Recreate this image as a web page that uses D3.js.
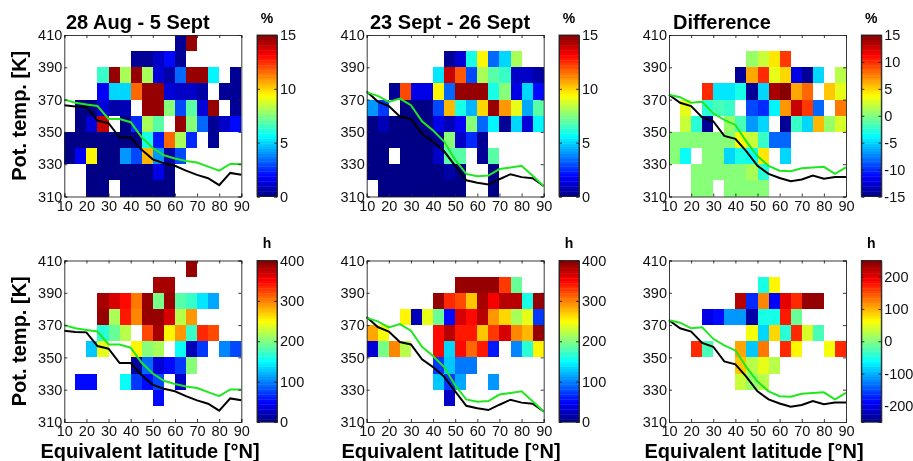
<!DOCTYPE html>
<html>
<head>
<meta charset="utf-8">
<script src="https://cdn.jsdelivr.net/npm/d3@7"></script>
<style>
body { margin: 0; background: #fff; }
svg { display: block; font-family: "Liberation Sans", Arial, sans-serif; filter: blur(0.4px); }
.tick text { font-size: 14.5px; fill: #111; }
.axis path, .axis line { stroke: #222; stroke-width: 0.9; }
</style>
</head>
<body>
<svg id="chart" width="913" height="461"></svg>
<script>
var _ = null;

// latitude bin edges (5 deg) and theta bins (10 K), rows listed top down from 400-410 K
var latBins = [10, 15, 20, 25, 30, 35, 40, 45, 50, 55, 60, 65, 70, 75, 80, 85];
var thetaBins = [400, 390, 380, 370, 360, 350, 340, 330, 320, 310];
var lineLats = [10, 15, 20, 25, 30, 35, 40, 45, 50, 55, 60, 65, 70, 75, 80, 85, 90];
var xTicks = [10, 20, 30, 40, 50, 60, 70, 80, 90];
var yTicks = [310, 330, 350, 370, 390, 410];

var pctAug = [
  [_,_,_,_,_,_,_,_,_,_,.3,14.6,_,_,_,_],
  [_,_,_,_,_,_,.3,.3,1,2,.3,_,_,_,_,_],
  [_,_,_,6.5,14.6,8,14.6,8,1.2,.6,3.5,14.6,14.6,5.5,_,.4],
  [_,_,_,1.8,5,5,11.5,14.6,14.6,1.3,1,1,.5,_,.3,.3],
  [_,.2,.2,1.2,.5,.8,_,14.6,14.6,7.5,3,7,1.2,14.6,_,.3],
  [_,.2,1.2,14,_,.2,2.5,8,7,_,14.6,7.5,3.5,.3,1,2],
  [.1,.1,.1,.1,.1,.1,.2,6,2.2,11.5,8,2.5,_,.3,_,_],
  [.2,1.8,9.5,.1,.1,4,3,10.5,4,.5,3,_,_,_,_,_],
  [_,_,.1,.1,.1,.1,.1,.1,1.5,.1,_,_,_,_,_,_],
  [_,_,.1,.1,_,.1,.1,.1,.1,.1,_,_,_,_,_,_]
];
var pctSept = [
  [_,_,_,_,_,_,_,_,_,_,_,_,_,_,_,_],
  [_,_,_,_,_,_,_,.3,1.2,6,9.5,3.5,5,8,_,_],
  [_,_,_,_,_,_,5.2,14,11.8,3,8,7,6.5,1,1,.6],
  [_,_,.3,12,1.5,1.5,9.5,3.5,14.6,14.6,14.6,6,7.5,1.5,5,2],
  [4,2.8,_,.1,.1,.1,3,10.5,6,4.5,10,14.6,11,9,4.3,6.8],
  [.2,.8,.1,.1,.1,.1,1.5,.8,1.8,7.5,3.5,5.5,.3,5,1.2,5.5],
  [.1,.1,.1,.1,.1,.1,.3,7.5,1,2.5,.3,_,_,_,_,_],
  [.1,.1,_,.1,.1,.1,1,7,7,_,.3,7,_,_,_,_],
  [.1,.1,.1,.1,.1,.1,.1,.5,.2,_,_,.2,_,_,_,_],
  [_,.1,.1,.1,.1,.1,.1,.1,.1,_,_,.2,_,_,_,_]
];
var pctDiff = [
  [_,_,_,_,_,_,_,_,_,_,_,_,_,_,_,_],
  [_,_,_,_,_,_,_,.5,2,4.5,9.5,_,_,_,_,_],
  [_,_,_,_,_,_,-14.5,6.5,10,3,5,-12,-14.5,-5,_,1.5],
  [_,_,_,10,-4.5,-4.5,-3,-14.5,-5,14,14.6,6.5,8,_,5.5,3],
  [_,3,_,-2.5,-1.5,-2,_,-9,-10,-4,7,13,9.5,-8,_,7.5],
  [_,2,-2.5,-14.5,_,.5,-1.5,-7,-5,_,-14.5,-2,-5,6,.5,2.5],
  [0,0,0,0,0,0,3.5,2,-2,-8,-8,_,_,_,_,_],
  [0,-3.5,_,0,0,-5,-3,-3.5,4.5,_,-5,_,_,_,_,_],
  [_,_,0,0,0,0,0,1,-2.5,_,_,_,_,_,_,_],
  [_,_,0,0,_,0,0,0,0,_,_,_,_,_,_,_]
];
var hoursAug = [
  [_,_,_,_,_,_,_,_,_,_,_,390,_,_,_,_],
  [_,_,_,_,_,_,_,_,385,385,_,_,_,_,_,_],
  [_,_,_,385,365,345,300,390,195,390,185,170,140,115,_,_],
  [_,_,_,390,215,340,295,390,390,365,220,290,_,_,_,_],
  [_,_,_,165,190,220,_,320,385,255,290,170,335,320,_,_],
  [_,_,125,240,_,_,250,200,215,_,150,20,70,_,105,75],
  [_,_,_,_,_,_,15,90,35,55,70,205,_,_,_,_],
  [_,55,50,_,_,155,70,55,75,_,25,_,_,_,_,_],
  [_,_,_,_,_,_,_,_,50,_,_,_,_,_,_,_],
  [_,_,_,_,_,_,_,_,_,_,_,_,_,_,_,_]
];
var hoursSept = [
  [_,_,_,_,_,_,_,_,_,_,_,_,_,_,_,_],
  [_,_,_,_,_,_,_,_,390,390,390,390,325,190,_,_],
  [_,_,_,_,_,_,390,335,320,270,385,350,375,375,160,390],
  [_,_,_,250,20,240,190,55,365,345,380,290,265,215,240,70],
  [285,245,_,_,_,_,345,375,340,340,270,330,365,295,275,390],
  [35,195,295,220,_,_,345,135,345,310,340,60,_,105,165,250],
  [_,_,_,_,_,_,70,130,95,95,_,_,_,_,_,_],
  [_,_,_,_,_,_,125,70,115,_,_,110,_,_,_,_],
  [_,_,_,_,_,_,_,30,_,_,_,_,_,_,_,_],
  [_,_,_,_,_,_,_,_,_,_,_,_,_,_,_,_]
];
var hoursDiff = [
  [_,_,_,_,_,_,_,_,_,_,_,_,_,_,_,_],
  [_,_,_,_,_,_,_,_,-50,65,_,_,_,_,_,_],
  [_,_,_,_,_,_,220,-170,120,-190,200,170,240,240,_,_],
  [_,_,_,-200,-180,-110,-110,-230,-50,-50,175,-10,_,_,_,_],
  [_,_,_,_,_,_,_,60,-80,85,-40,170,40,-25,_,_],
  [_,_,170,-25,_,_,105,-90,130,_,170,70,_,_,55,165],
  [_,_,_,_,_,_,90,30,50,30,_,_,_,_,_,_],
  [_,_,_,_,_,_,35,15,30,_,_,_,_,_,_,_],
  [_,_,_,_,_,_,_,_,_,_,_,_,_,_,_,_],
  [_,_,_,_,_,_,_,_,_,_,_,_,_,_,_,_]
];

// tropopause lines for the three periods
var blackAug = [366.5,365.7,365.5,357,355.4,346.5,346.5,339,333,330.6,329,326,323.4,321.3,317,324.6,323.4];
var greenAug = [370,368,367,366,358,358,356,346.7,340,335.5,333.5,332,331,328.5,326,330.2,330.2];
var blackSept = [375,368.8,366,359.5,358,348.8,344,338,329,320,318.5,317.4,320.7,323.8,322,321.3,316.5];
var greenSept = [374.5,372.3,368.6,370.6,366.5,356.6,350.8,344,332.7,324,322.5,323,327,328,329,322.8,316.5];
var blackDiff = [373,368,366,359,356.6,347.5,345.7,338,329,324,321.5,319.5,320.5,323,321,322,322];
var greenDiff = [373,371.5,368,368.6,361.5,357.4,354.3,344,335,329,326,325.6,327.5,328,328.4,324,328];

var pctTicks = [0, 5, 10, 15];
var pctDiffTicks = [-15, -10, -5, 0, 5, 10, 15];
var hourTicks = [0, 100, 200, 300, 400];
var hourDiffTicks = [-200, -100, 0, 100, 200];

var svg = d3.select("#chart");
var rowTops = [35, 260.5];
var plotH = 161.5;
var plotW = 177;
var colLefts = [64.3, 366.7, 669];
var barLefts = [257, 559, 861.3];

// matlab jet, 64 levels
function jet(t) {
    var k = Math.min(63, Math.max(0, Math.floor(t * 64)));
    var v = (k + 0.5) / 64;
    function ramp(c) { return Math.round(255 * Math.max(0, Math.min(1, 1.5 - Math.abs(4 * v - c)))); }
    return "rgb(" + ramp(3) + "," + ramp(2) + "," + ramp(1) + ")";
}

function addPanel(col, row, cells, blackLine, greenLine, domain, barTicks) {
    var left = colLefts[col], top = rowTops[row];
    var x = d3.scaleLinear().domain([10, 90]).range([left, left + plotW]);
    var y = d3.scaleLinear().domain([310, 410]).range([top + plotH, top]);
    var color = d3.scaleLinear().domain(domain).range([0, 1]);

    cells.forEach(function(values, r) {
        values.forEach(function(v, c) {
            if (v === null) return;
            svg.append("rect")
                .attr("x", x(latBins[c]))
                .attr("y", y(thetaBins[r] + 10))
                .attr("width", x(latBins[c] + 5) - x(latBins[c]))
                .attr("height", y(thetaBins[r]) - y(thetaBins[r] + 10))
                .attr("shape-rendering", "crispEdges")
                .attr("fill", jet(color(v)));
        });
    });

    var line = d3.line().x(function(d, i) { return x(lineLats[i]); }).y(function(d) { return y(d); });
    svg.append("path").attr("d", line(blackLine)).attr("fill", "none").attr("stroke", "#000").attr("stroke-width", 2);
    svg.append("path").attr("d", line(greenLine)).attr("fill", "none").attr("stroke", "#1ee81e").attr("stroke-width", 2);

    svg.append("g").attr("class", "axis").attr("transform", "translate(0," + (top + plotH) + ")")
        .call(d3.axisBottom(x).tickValues(xTicks).tickSize(-3).tickPadding(4));
    svg.append("g").attr("class", "axis").attr("transform", "translate(0," + top + ")")
        .call(d3.axisTop(x).tickValues(xTicks).tickSize(-3).tickFormat(""));
    svg.append("g").attr("class", "axis").attr("transform", "translate(" + left + ",0)")
        .call(d3.axisLeft(y).tickValues(yTicks).tickSize(-3).tickPadding(2));
    svg.append("g").attr("class", "axis").attr("transform", "translate(" + (left + plotW) + ",0)")
        .call(d3.axisRight(y).tickValues(yTicks).tickSize(-3).tickFormat(""));

    addColorbar(col, row, domain, barTicks);
}

function addColorbar(col, row, domain, barTicks) {
    var left = barLefts[col], top = rowTops[row], w = 20;
    var y = d3.scaleLinear().domain(domain).range([top + plotH, top]);
    var levels = d3.range(64);
    svg.selectAll(null).data(levels).enter().append("rect")
        .attr("x", left)
        .attr("y", function(k) { return top + plotH - (k + 1) * plotH / 64; })
        .attr("width", w)
        .attr("height", plotH / 64 + 0.4)
        .attr("fill", function(k) { return jet((k + 0.5) / 64); });
    svg.append("rect").attr("x", left).attr("y", top).attr("width", w).attr("height", plotH)
        .attr("fill", "none").attr("stroke", "#222").attr("stroke-width", 0.9);
    // plain hyphen for negatives, d3's default minus sign is too wide
    svg.append("g").attr("class", "axis").attr("transform", "translate(" + (left + w) + ",0)")
        .call(d3.axisRight(y).tickValues(barTicks).tickSize(-3).tickPadding(3).tickFormat(String));
    svg.append("g").attr("class", "axis").attr("transform", "translate(" + left + ",0)")
        .call(d3.axisLeft(y).tickValues(barTicks).tickSize(-3).tickFormat(""));
    svg.append("text").attr("x", left + 10).attr("y", row == 0 ? 23 : 248)
        .attr("text-anchor", "middle").attr("font-size", 14).attr("font-weight", "bold").text(row == 0 ? "%" : "h");
}

addPanel(0, 0, pctAug, blackAug, greenAug, [0, 15], pctTicks);
addPanel(1, 0, pctSept, blackSept, greenSept, [0, 15], pctTicks);
addPanel(2, 0, pctDiff, blackDiff, greenDiff, [-15, 15], pctDiffTicks);
addPanel(0, 1, hoursAug, blackAug, greenAug, [0, 400], hourTicks);
addPanel(1, 1, hoursSept, blackSept, greenSept, [0, 400], hourTicks);
addPanel(2, 1, hoursDiff, blackDiff, greenDiff, [-250, 250], hourDiffTicks);

var titles = ["28 Aug - 5 Sept", "23 Sept - 26 Sept", "Difference"];
var titleX = [66, 370, 673];
titles.forEach(function(t, i) {
    svg.append("text").attr("x", titleX[i]).attr("y", 28.5).attr("font-size", 20).attr("font-weight", "bold").text(t);
});

rowTops.forEach(function(top) {
    svg.append("text").attr("transform", "translate(26," + (top + plotH / 2) + ") rotate(-90)")
        .attr("text-anchor", "middle").attr("font-size", 20).attr("font-weight", "bold").text("Pot. temp. [K]");
});

colLefts.forEach(function(left, i) {
    svg.append("text").attr("x", [150, 451, 754][i]).attr("y", 458)
        .attr("text-anchor", "middle").attr("font-size", 20).attr("font-weight", "bold").text("Equivalent latitude [°N]");
});
</script>
</body>
</html>
